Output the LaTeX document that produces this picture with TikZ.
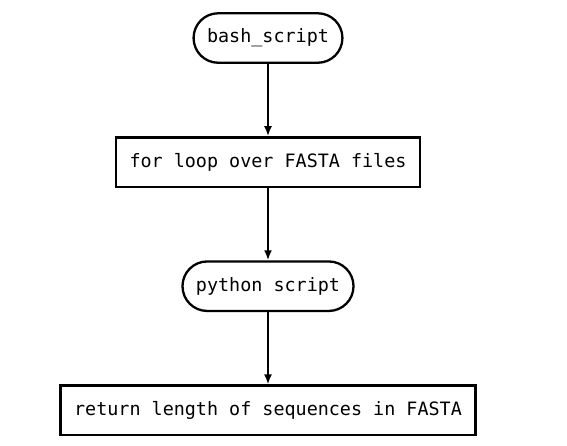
\documentclass[tikz,border=0pt]{standalone}
\usepackage{fontspec}
\setmonofont{DejaVu Sans Mono}
\usepackage{tikz}
\usetikzlibrary{arrows.meta,calc,positioning}

\begin{document}
\begin{tikzpicture}
[x=1pt,y=1pt,line width=2.3pt,>={Latex[length=10pt,width=8pt]},node distance=72.3pt,
 every node/.style={font=\ttfamily\fontsize{18.4}{22}\selectfont,minimum height=49.5pt,inner xsep=13.5pt},
 term/.style={draw,rounded corners=24.7pt},
 stepbox/.style={draw}]
\useasboundingbox (0,0) rectangle (567,-445);
\node[term] (bash) at (268,-38) {bash\_script};
\node[stepbox,below=of bash] (loop) {for loop over FASTA files};
\node[term,below=of loop] (py) {python script};
\node[stepbox,below=of py] (ret) {return length of sequences in FASTA};
\draw[->] (bash) to (loop);
\draw[->] (loop) to (py);
\draw[->] (py) to (ret);
\end{tikzpicture}
\end{document}
